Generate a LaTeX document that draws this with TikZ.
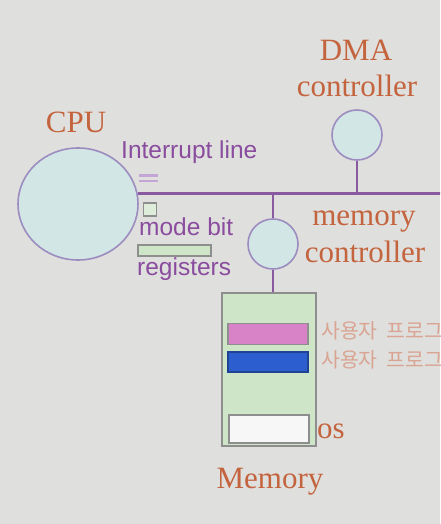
\documentclass[tikz,border=0pt]{standalone}
\usepackage{fontspec}
\setmainfont{Liberation Serif}
\newfontfamily\arialf{Liberation Sans}
\newfontfamily\krf{Noto Sans CJK KR}
\usetikzlibrary{shapes.geometric}
\definecolor{bgc}{HTML}{DFDFDD}
\definecolor{circfill}{HTML}{D3E6E6}
\definecolor{circline}{HTML}{9C8CC0}
\definecolor{busc}{HTML}{8A5AA0}
\definecolor{labc}{HTML}{C4643E}
\definecolor{purtxt}{HTML}{8A4C9E}
\definecolor{krc}{HTML}{D9A492}
\definecolor{memfill}{HTML}{CFE5C8}
\definecolor{boxline}{HTML}{8E8E8E}
\definecolor{pinkc}{HTML}{D882C8}
\definecolor{bluec}{HTML}{2C5ED0}
\definecolor{intc}{HTML}{C4A6D6}
\tikzset{
  unit/.style={circle, draw=circline, line width=1.6pt, fill=circfill, inner sep=0pt, minimum size=50pt},
  lab/.style={text=labc, font=\fontsize{31}{30}\selectfont, inner sep=0pt, align=center},
  ptxt/.style={text=purtxt, font=\arialf\fontsize{24.5}{25}\selectfont, inner sep=0pt, anchor=west},
  krtxt/.style={text=krc, font=\krf\fontsize{20.5}{22}\selectfont, inner sep=0pt, anchor=west},
  bus/.style={draw=busc, line width=2.6pt},
  conn/.style={draw=busc, line width=2pt},
  gbox/.style={draw=boxline, line width=1.2pt}
}
\begin{document}
\begin{tikzpicture}[x=1pt,y=-1pt]
\fill[bgc] (0,0) rectangle (440,524);
\useasboundingbox (0,0) rectangle (440,524);
\clip (0,0) rectangle (440,524);
% CPU
\node[ellipse, draw=circline, line width=1.6pt, fill=circfill, minimum width=120pt, minimum height=112pt, inner sep=0pt] (cpu) at (78,204) {};
\node[lab] (cpulab) at (76,122) {CPU};
\coordinate (busR) at (442,192);
\draw[bus] (cpu.10) -- (cpu.10 -| busR);
% interrupt line marks
\node[ptxt] (intlab) at (121,152) {Interrupt line};
\draw[intc, line width=2.6pt] (139,175.5) -- (158,175.5);
\draw[intc, line width=2.6pt] (139,181) -- (158,181);
% mode bit
\node[gbox, fill=memfill!70!white, minimum size=13pt, inner sep=0pt] (modebit) at (150,209.5) {};
\node[ptxt] (modelab) at (139,227) {mode bit};
\node[gbox, fill=memfill, minimum width=73pt, minimum height=11pt, inner sep=0pt] (regs) at (174.5,250.5) {};
\node[ptxt] (reglab) at (137,269) {registers};
% DMA
\node[unit] (dma) at (357,135) {};
\node[lab] (dmalab) at (356,50) {DMA};
\node[lab] (dmalab2) at (357,86) {controller};
\draw[conn] (dma.south) -- (dma.south |- busR);
% memory controller
\node[unit] (mc) at (273,244) {};
\node[lab] (mclab) at (364,222) {memory};
\node[lab] (mclab2) at (365,252) {controller};
\draw[conn] (mc.north) -- (mc.north |- busR);
% memory
\node[gbox, fill=memfill, minimum width=94pt, minimum height=153pt, inner sep=0pt] (mem) at (269,369.5) {};
\draw[conn] (mc.south) -- (mc.south |- mem.north);
\node[gbox, fill=pinkc, minimum width=80pt, minimum height=21pt, inner sep=0pt] (up1) at (268,334) {};
\node[gbox, draw=bluec!70!black, fill=bluec, minimum width=80pt, minimum height=20pt, inner sep=0pt] (up2) at (268,362) {};
\node[gbox, fill=white!94!gray, minimum width=80pt, minimum height=28pt, inner sep=0pt] (os) at (269,429) {};
\node[krtxt] (k1) at (321,331) {사용자\hspace{9pt}프로그램};
\node[krtxt] (k2) at (321,360) {사용자\hspace{9pt}프로그램};
\node[lab, anchor=west] (oslab) at (317,431) {os};
\node[lab] (memlab) at (270,482) {Memory};
\end{tikzpicture}
\end{document}
